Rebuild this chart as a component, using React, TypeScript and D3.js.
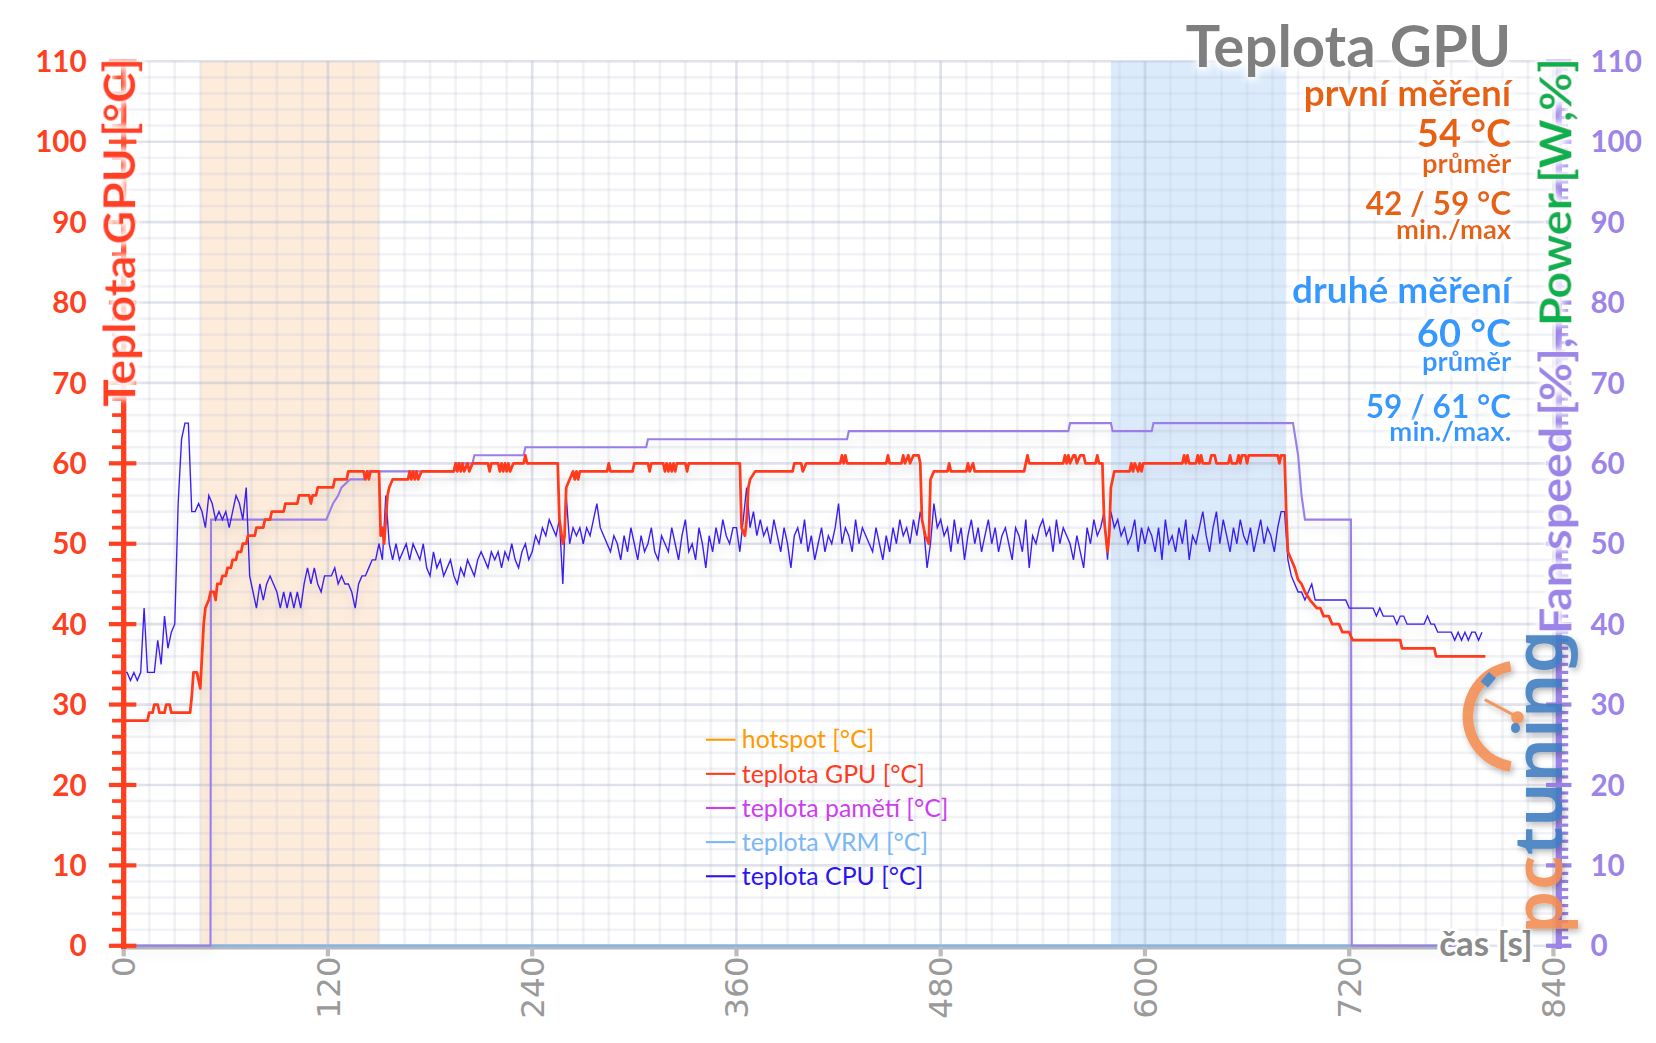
import React from 'react';
import * as d3 from 'd3';

// time [s] / value pairs
const gpuTemp: [number, number][] = [
  [0, 28], [14, 28], [15, 29], [17, 29], [18, 30], [20, 30], [21, 29], [24, 29], [25, 30], [27, 30], [28, 29], [39, 29],
  [40, 31], [41, 34], [43, 34], [45, 32], [47, 40], [48, 42], [50, 43], [51, 44], [53, 44], [54, 43], [55, 45], [57, 45],
  [58, 46], [60, 46], [61, 47], [63, 47], [64, 48], [66, 48], [67, 49], [69, 49], [70, 50], [72, 50], [73, 51], [77, 51],
  [78, 52], [82, 52], [83, 53], [86, 53], [87, 54], [94, 54], [95, 55], [102, 55], [103, 56], [109, 56], [110, 55], [111, 56],
  [113, 56], [114, 57], [123, 57], [124, 58], [131, 58], [132, 59], [141, 59], [142, 58], [143, 59], [144, 58], [145, 59], [150, 59],
  [151, 51], [152, 52], [153, 50], [155, 56], [156, 57], [158, 58], [167, 58], [168, 59], [169, 58], [170, 59], [171, 58], [172, 59],
  [173, 58], [175, 59], [194, 59], [195, 60], [196, 59], [197, 60], [198, 59], [199, 60], [200, 59], [202, 60], [203, 59], [205, 60],
  [214, 60], [215, 59], [216, 60], [220, 60], [221, 59], [222, 60], [223, 59], [224, 60], [225, 59], [226, 60], [227, 59], [229, 60],
  [235, 60], [236, 61], [237, 60], [255, 60],
  [256, 53], [258, 50], [259, 51], [260, 57], [262, 58], [264, 59], [265, 58], [266, 59], [267, 58], [268, 59], [284, 59], [285, 60],
  [286, 59], [299, 59], [300, 60], [308, 60], [309, 59], [310, 60], [317, 60], [318, 59], [319, 60], [320, 59], [321, 60], [322, 59],
  [323, 60], [324, 59], [325, 60], [330, 60], [331, 59], [332, 60], [362, 60],
  [363, 52], [365, 51], [366, 53], [367, 57], [368, 58], [371, 59], [393, 59], [394, 60], [398, 60], [399, 59], [401, 60], [421, 60],
  [422, 61], [423, 60], [424, 61], [425, 60], [448, 60], [449, 61], [450, 60], [457, 60], [458, 61], [459, 60], [461, 61], [462, 60],
  [464, 61], [467, 61], [468, 60],
  [469, 53], [471, 51], [473, 50], [474, 58], [476, 59], [484, 59], [485, 60], [486, 59], [495, 59], [496, 60], [497, 59], [499, 60],
  [500, 59], [529, 59], [530, 60], [531, 61], [532, 60], [552, 60], [553, 61], [554, 60], [555, 61], [556, 60], [558, 61], [559, 61],
  [560, 60], [562, 61], [564, 61], [565, 60], [571, 60], [572, 61], [573, 60], [575, 60],
  [576, 53], [578, 49], [579, 51], [580, 57], [581, 58], [582, 59], [591, 59], [592, 60], [593, 59], [594, 60], [596, 59], [597, 60],
  [598, 59], [599, 60], [622, 60], [623, 61], [624, 60], [625, 61], [626, 60], [630, 60], [631, 61], [632, 60], [633, 61], [634, 60],
  [638, 60], [639, 61], [641, 61], [642, 60], [649, 60], [650, 61], [651, 60], [654, 60], [655, 61], [656, 60], [657, 61], [659, 61],
  [660, 60], [661, 61], [678, 61], [679, 60], [680, 61], [682, 61],
  [683, 54], [684, 49], [686, 48], [688, 47], [690, 45.5], [692, 45], [694, 44], [697, 43], [701, 42], [703, 42], [705, 41], [708, 41],
  [710, 40], [714, 40], [716, 39], [720, 39], [722, 38], [750, 38], [751, 37], [770, 37], [771, 36], [800, 36],
];

const fanSpeed: [number, number][] = [
  [0, 0], [51, 0], [51.3, 53], [119, 53], [121, 54], [123, 55], [126, 56], [128, 57], [133, 58], [141, 58], [143, 59], [194, 59],
  [195, 60], [205, 60], [206, 61], [235, 61], [236, 62], [307, 62], [308, 63], [425, 63], [426, 64], [555, 64], [556, 65], [580, 65],
  [581, 64], [604, 64], [605, 65], [687, 65], [690, 61], [692, 56], [694, 53], [721, 53], [721.5, 0], [800, 0],
];

const vrmTemp: [number, number][] = [[0, 0], [800, 0]];

// CPU temperature, one value every 2 s from t = 0
const cpuStep = 2;
const cpuTemp: number[] = [
  34, 34, 33, 34, 33, 34, 42, 34, 34, 34,
  38, 35, 41, 37, 39, 40, 55, 63, 65, 65,
  54, 54, 55, 54, 52, 56, 55, 53, 54, 53,
  54, 52, 54, 56, 55, 53, 57, 46, 44, 42,
  45, 43, 45, 46, 45, 44, 42, 44, 42, 44,
  42, 44, 42, 45, 47, 45, 47, 45, 44, 46,
  46, 46, 47, 45, 46, 45, 45, 44, 42, 45,
  46, 46, 47, 48, 48, 50, 48, 56, 50, 48,
  50, 48, 49, 50, 48, 50, 49, 48, 50, 47,
  46, 49, 47, 48, 46, 47, 48, 46, 45, 47,
  46, 48, 47, 46, 48, 49, 48, 47, 49, 48,
  49, 47, 49, 48, 50, 48, 47, 49, 50, 48,
  49, 51, 50, 52, 51, 53, 52, 51, 53, 45,
  56, 50, 52, 51, 52, 50, 52, 51, 53, 55,
  52, 51, 50, 49, 51, 50, 48, 51, 49, 52,
  50, 48, 51, 49, 50, 52, 49, 48, 51, 50,
  49, 52, 50, 48, 51, 53, 49, 50, 48, 52,
  50, 47, 51, 49, 52, 50, 53, 51, 50, 52,
  52, 49, 53, 57, 52, 54, 51, 53, 51, 52,
  50, 53, 51, 49, 52, 50, 47, 51, 52, 50,
  53, 49, 51, 48, 50, 52, 49, 51, 50, 52,
  55, 50, 52, 51, 49, 53, 50, 52, 51, 50,
  49, 52, 50, 48, 51, 49, 52, 50, 53, 51,
  52, 50, 53, 51, 54, 52, 47, 50, 55, 52,
  53, 51, 52, 49, 53, 50, 52, 48, 51, 53,
  50, 52, 49, 51, 53, 50, 52, 49, 51, 52,
  50, 48, 52, 51, 49, 53, 47, 51, 50, 52,
  53, 51, 52, 49, 53, 50, 52, 51, 50, 48,
  51, 49, 47, 52, 50, 53, 51, 52, 54, 48,
  54, 52, 53, 51, 52, 50, 51, 53, 49, 52,
  50, 52, 51, 49, 52, 48, 53, 50, 51, 49,
  52, 50, 53, 48, 51, 50, 52, 54, 51, 49,
  52, 54, 50, 53, 51, 49, 52, 50, 53, 51,
  50, 52, 49, 51, 53, 50, 52, 51, 49, 52,
  54, 54, 48, 46, 45, 44, 44, 43, 44, 45,
  43, 43, 43, 43, 43, 43, 43, 43, 43, 43,
  42, 42, 42, 42, 42, 42, 42, 42, 41, 42,
  41, 41, 41, 41, 40, 41, 41, 40, 40, 40,
  40, 40, 40, 41, 40, 40, 39, 39, 39, 39,
  39, 38, 39, 38, 39, 38, 39, 39, 38, 39,
];

const xTicks = [0, 120, 240, 360, 480, 600, 720, 840];
const yTicks = [0, 10, 20, 30, 40, 50, 60, 70, 80, 90, 100, 110];
const firstRun = [45, 150];
const secondRun = [580, 683];

const legendLabels = ['hotspot [°C]', 'teplota GPU [°C]', 'teplota pamětí [°C]', 'teplota VRM [°C]', 'teplota CPU [°C]'];
const legendColors = ['#ff9a00', '#ff3b1f', '#cc3ff0', '#7ab8f5', '#2b14f0'];

const firstStats = ['první měření', '54 °C', 'průměr', '42 / 59 °C', 'min./max'];
const secondStats = ['druhé měření', '60 °C', 'průměr', '59 / 61 °C', 'min./max.'];

const FONT = "Lato, 'Open Sans', sans-serif";
const RED = '#ff4020';
const PURPLE = '#9d84e8';

const App: React.FC = () => {
  const x = d3.scaleLinear().domain([0, 840]).range([117, 1470]);
  const y = d3.scaleLinear().domain([0, 110]).range([895, 58]);

  const line = d3.line<[number, number]>().x(d => x(d[0])).y(d => y(d[1]));
  const cpuPoints: [number, number][] = cpuTemp.map((v, i) => [i * cpuStep, v]);

  const minorX = d3.range(0, 841, 15).filter(t => t % 120 !== 0);
  const minorY = d3.range(0, 111, 2).filter(v => v % 10 !== 0);
  const leftMinor = d3.range(0, 111, 2).filter(v => v % 10 !== 0);
  const rightMinor = d3.range(0, 111, 1).filter(v => v % 10 !== 0);

  const halo = { paintOrder: 'stroke' as const, stroke: '#fff', strokeWidth: 6, strokeLinejoin: 'round' as const };

  const statLines = [
    { size: 35, dy: 100 }, { size: 36, dy: 139 }, { size: 26, dy: 164 }, { size: 30, dy: 203 }, { size: 26, dy: 226 },
  ];
  const statLines2 = [
    { size: 35, dy: 287 }, { size: 36, dy: 328 }, { size: 26, dy: 351 }, { size: 30, dy: 396 }, { size: 26, dy: 417 },
  ];

  return (
    <svg width={1656} height={1043} viewBox="0 0 1567 987"
      style={{ position: 'absolute', left: 0, top: 0, background: '#fff' }} fontFamily={FONT}>
      <defs>
        <filter id="shadow" x="-5%" y="-10%" width="110%" height="130%">
          <feDropShadow dx="0" dy="6" stdDeviation="5" floodColor="#000" floodOpacity="0.12" />
        </filter>
        <filter id="glow" x="-10%" y="-20%" width="120%" height="140%">
          <feMorphology operator="dilate" radius="3" in="SourceAlpha" result="d" />
          <feGaussianBlur in="d" stdDeviation="3" result="b" />
          <feFlood floodColor="#fff" />
          <feComposite in2="b" operator="in" result="w" />
          <feMerge>
            <feMergeNode in="w" />
            <feMergeNode in="SourceGraphic" />
          </feMerge>
        </filter>
        <filter id="logoShadow" x="-20%" y="-20%" width="140%" height="140%">
          <feDropShadow dx="2" dy="3" stdDeviation="3" floodColor="#000" floodOpacity="0.3" />
        </filter>
      </defs>

      {/* measurement bands */}
      <rect x={x(firstRun[0])} y={y(110)} width={x(firstRun[1]) - x(firstRun[0])} height={y(0) - y(110)} fill="#fdecdc" />
      <rect x={x(secondRun[0])} y={y(110)} width={x(secondRun[1]) - x(secondRun[0])} height={y(0) - y(110)} fill="#dcebfc" />

      {/* grid */}
      <g>
        {minorX.map(t => (
          <line key={'mx' + t} x1={x(t)} x2={x(t)} y1={y(110)} y2={y(0)} stroke="rgba(185,192,210,0.2)" strokeWidth={2.5} />
        ))}
        {minorY.map(v => (
          <line key={'my' + v} x1={x(0)} x2={x(840)} y1={y(v)} y2={y(v)} stroke="rgba(185,192,210,0.2)" strokeWidth={2.5} />
        ))}
        {xTicks.map(t => (
          <line key={'Mx' + t} x1={x(t)} x2={x(t)} y1={y(110)} y2={y(0)} stroke="rgba(170,178,200,0.38)" strokeWidth={2.5} />
        ))}
        {yTicks.map(v => (
          <line key={'My' + v} x1={x(0)} x2={x(840)} y1={y(v)} y2={y(v)} stroke="rgba(170,178,200,0.38)" strokeWidth={2.5} />
        ))}
      </g>

      {/* x axis */}
      <line x1={x(0)} x2={1362} y1={y(0) + 1} y2={y(0) + 1} stroke="#b8b8b8" strokeWidth={5} />
      {xTicks.map(t => (
        <line key={'xt' + t} x1={x(t)} x2={x(t)} y1={y(0)} y2={y(0) + 10} stroke="#bdbdbd" strokeWidth={4} />
      ))}
      <path d={line(vrmTemp) ?? ''} fill="none" stroke="#7ab8f5" strokeWidth={2} />

      {/* series */}
      <g filter="url(#shadow)">
        <path d={line(fanSpeed) ?? ''} fill="none" stroke="#9b7fe8" strokeWidth={2} />
        <path d={line(cpuPoints) ?? ''} fill="none" stroke="#3a1ff2" strokeWidth={1.3} />
        <path d={line(gpuTemp) ?? ''} fill="none" stroke="#ff3b1f" strokeWidth={2.6} strokeLinejoin="round" />
      </g>

      {/* x tick labels */}
      {xTicks.map(t => (
        <text key={'xl' + t} transform={`translate(${x(t) + 11},905) rotate(-90)`} textAnchor="end"
          fontFamily="'DejaVu Sans', sans-serif" fontSize={31} fill="#9a9a9a">{t}</text>
      ))}
      <text x={1362} y={905} fontSize={33} fontWeight={700} fill="#8a8a8a" style={halo}>čas [s]</text>

      {/* left axis */}
      <line x1={117} x2={117} y1={y(110) - 2} y2={y(0) + 3} stroke={RED} strokeWidth={5} />
      {leftMinor.map(v => (
        <line key={'lt' + v} x1={106} x2={117} y1={y(v)} y2={y(v)} stroke={RED} strokeWidth={3.5} />
      ))}
      {yTicks.map(v => (
        <line key={'lT' + v} x1={103} x2={129} y1={y(v)} y2={y(v)} stroke={RED} strokeWidth={4} />
      ))}
      {yTicks.map(v => (
        <text key={'ll' + v} x={82} y={y(v)} dy="0.36em" textAnchor="end" fontSize={28} fontWeight={700} fill={RED}>{v}</text>
      ))}
      <text transform="translate(128,385) rotate(-90)" fontSize={42} fontWeight={700} fill={RED} filter="url(#glow)"
        textLength={330} lengthAdjust="spacingAndGlyphs">Teplota GPU [°C]</text>

      {/* right axis */}
      <line x1={1475} x2={1475} y1={y(110) - 2} y2={y(0) + 3} stroke={PURPLE} strokeWidth={6} />
      {rightMinor.map(v => (
        <line key={'rt' + v} x1={1475} x2={1484} y1={y(v)} y2={y(v)} stroke={PURPLE} strokeWidth={3} />
      ))}
      {yTicks.map(v => (
        <line key={'rT' + v} x1={1463} x2={1487} y1={y(v)} y2={y(v)} stroke={PURPLE} strokeWidth={4} />
      ))}
      {yTicks.map(v => (
        <text key={'rl' + v} x={1505} y={y(v)} dy="0.36em" textAnchor="start" fontSize={28} fontWeight={700} fill={PURPLE}>{v}</text>
      ))}
      <text transform="translate(1487,600) rotate(-90)" fontSize={42} fontWeight={700} filter="url(#glow)"
        textLength={545} lengthAdjust="spacingAndGlyphs">
        <tspan fill={PURPLE}>Fan speed [%], </tspan>
        <tspan fill="#10b050">Power [W,%]</tspan>
      </text>

      {/* logo */}
      <g opacity={0.88} filter="url(#logoShadow)">
        <path d={d3.arc()({ innerRadius: 43, outerRadius: 53, startAngle: Math.PI * 1.05, endAngle: Math.PI * 1.95 }) ?? ''}
          transform="translate(1437,678)" fill="#f28b50" />
        <rect x={1404} y={637} width={9} height={12} transform="rotate(40,1408,643)" fill="#3d7cc0" />
        <line x1={1405} x2={1433} y1={662} y2={677} stroke="#f28b50" strokeWidth={3} />
        <circle cx={1436} cy={679} r={6} fill="#f28b50" />
        <text transform="translate(1478,884) rotate(-90)" fontFamily="'Noto Sans', sans-serif" fontSize={64} fontWeight={600}
          textLength={288} lengthAdjust="spacingAndGlyphs">
          <tspan fill="#f28b50">pc</tspan>
          <tspan fill="#3d7cc0">tuning</tspan>
        </text>
      </g>

      {/* title and stats */}
      <text x={1430} y={63} textAnchor="end" fontSize={55} fontWeight={700} fill="#7f7f7f" filter="url(#glow)">Teplota GPU</text>
      {firstStats.map((s, i) => (
        <text key={'f' + i} x={1430} y={statLines[i].dy} textAnchor="end" fontSize={statLines[i].size} fontWeight={700}
          fill="#e8620c" filter="url(#glow)">{s}</text>
      ))}
      {secondStats.map((s, i) => (
        <text key={'s' + i} x={1430} y={statLines2[i].dy} textAnchor="end" fontSize={statLines2[i].size} fontWeight={700}
          fill="#3399ff" filter="url(#glow)">{s}</text>
      ))}

      {/* legend */}
      {legendLabels.map((l, i) => (
        <g key={'lg' + i} transform={`translate(668,${700 + i * 32.3})`}>
          <line x1={0} x2={28} y1={0} y2={0} stroke={legendColors[i]} strokeWidth={2} />
          <text x={34} y={0} dy="0.35em" fontSize={23.5} fill={legendColors[i]}>{l}</text>
        </g>
      ))}
    </svg>
  );
};

export default App;
